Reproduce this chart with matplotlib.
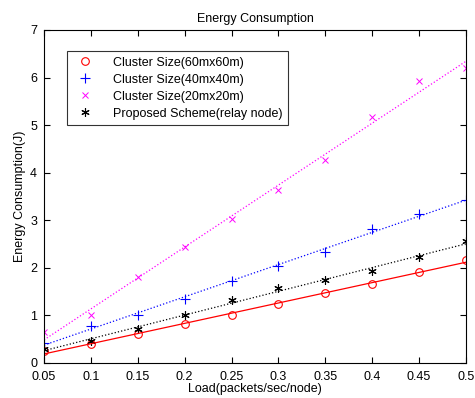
import numpy as np
import matplotlib
matplotlib.use("Agg")
import matplotlib.pyplot as plt

plt.rcParams['font.family'] = ['Liberation Sans', 'DejaVu Sans']

load = [0.05, 0.1, 0.15, 0.2, 0.25, 0.3, 0.35, 0.4, 0.45, 0.5]
e60 = [0.25, 0.39, 0.60, 0.82, 1.00, 1.23, 1.46, 1.66, 1.91, 2.17]
e40 = [0.41, 0.77, 1.00, 1.34, 1.72, 2.03, 2.32, 2.81, 3.12, 3.43]
e20 = [0.64, 1.00, 1.81, 2.43, 3.03, 3.63, 4.27, 5.17, 5.93, 6.20]
eprop = [0.29, 0.46, 0.70, 1.00, 1.32, 1.58, 1.73, 1.92, 2.22, 2.55]
labels = ['Cluster Size(60mx60m)', 'Cluster Size(40mx40m)',
          'Cluster Size(20mx20m)', 'Proposed Scheme(relay node)']

fig = plt.figure(figsize=(4.75, 3.98), dpi=100)
ax = fig.add_axes([0.0926, 0.0887, 0.8884, 0.836])

x = np.array(load)
series = [
    (e60, 'o', '#ff0000', '-', dict(mfc='none', ms=5.5, mew=0.8)),
    (e40, '+', '#0000ff', ':', dict(ms=7, mew=0.8)),
    (e20, 'x', '#ff00ff', ':', dict(ms=4.5, mew=0.7)),
    (eprop, (6, 2, 0), '#000000', ':', dict(ms=6, mew=0.8)),
]
for (y, m, c, ls, kw), lab in zip(series, labels):
    ax.plot(x, y, linestyle='none', marker=m, color=c, label=lab, **kw)
for (y, m, c, ls, kw) in series:
    p = np.polyfit(x, y, 1)
    ax.plot(x, np.polyval(p, x), linestyle=ls, color=c, lw=0.9)

ax.set_xlim(0.05, 0.5)
ax.set_ylim(0, 7)
ax.set_xticks(load)
ax.set_xticklabels(['0.05', '0.1', '0.15', '0.2', '0.25', '0.3', '0.35', '0.4', '0.45', '0.5'])
ax.set_yticks(range(8))
ax.tick_params(direction='in', top=True, right=True, labelsize=9, length=4)
ax.tick_params(axis='x', pad=6)
ax.tick_params(axis='y', pad=5)
for s in ax.spines.values():
    s.set_linewidth(0.8)
ax.set_xlabel('Load(packets/sec/node)', fontsize=9, labelpad=0)
ax.set_ylabel('Energy Consumption(J)', fontsize=9, labelpad=3)
ax.set_title('Energy Consumption', fontsize=9, pad=6)

leg = ax.legend(loc='upper left', bbox_to_anchor=(0.0545, 0.937), fontsize=9,
                frameon=True, fancybox=False, edgecolor='black',
                handlelength=2.0, handletextpad=1.2, borderpad=0.45,
                labelspacing=0.4, borderaxespad=0)
leg.get_frame().set_linewidth(0.8)

fig.savefig('out.png', dpi=100)
